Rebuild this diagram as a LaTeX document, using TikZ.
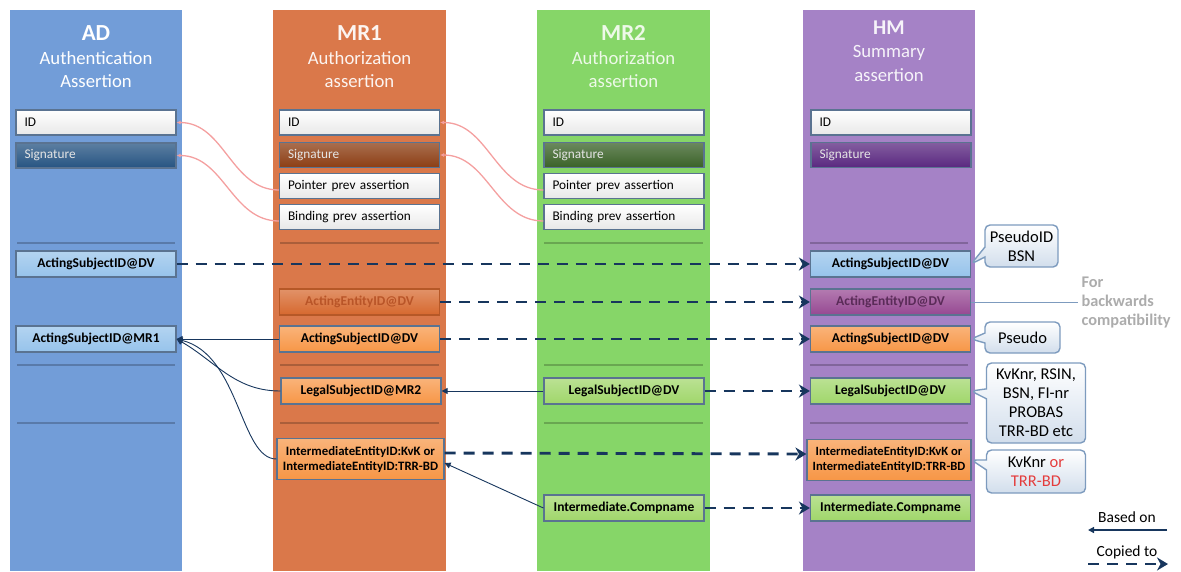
\documentclass[tikz,border=0pt]{standalone}
\usepackage{fontspec}
\setmainfont{Carlito}
\usetikzlibrary{arrows.meta,shapes.callouts}

\definecolor{adblue}{RGB}{114,157,216}
\definecolor{mrorange}{RGB}{218,120,74}
\definecolor{mrgreen}{RGB}{134,214,104}
\definecolor{hmpurple}{RGB}{165,130,198}
\definecolor{lightblue}{RGB}{150,195,235}
\definecolor{orangebox}{RGB}{247,150,70}
\definecolor{greenbox}{RGB}{160,214,106}
\definecolor{fadedorange}{RGB}{214,104,46}
\definecolor{fadedtext}{RGB}{185,85,40}
\definecolor{plum}{RGB}{150,72,146}
\definecolor{boxedge}{RGB}{90,115,145}
\definecolor{navy}{RGB}{23,54,93}
\definecolor{pinkline}{RGB}{244,160,160}
\definecolor{noteedge}{RGB}{125,155,190}
\definecolor{notefill}{RGB}{210,222,236}
\definecolor{adsig}{RGB}{38,84,130}
\definecolor{mrsig}{RGB}{140,62,20}
\definecolor{greensig}{RGB}{58,98,40}
\definecolor{hmsig}{RGB}{90,40,128}
\definecolor{compatgray}{RGB}{172,172,172}
\definecolor{orred}{RGB}{228,60,60}

\tikzset{
  field/.style={draw=boxedge, line width=1.2pt, top color=white, bottom color=gray!18,
    minimum height=25pt, text width=143pt, inner xsep=8.5pt, inner ysep=0pt, align=left,
    font=\fontsize{13.3}{15}\selectfont},
  sigfield/.style={field, top color=#1!75!white, bottom color=#1, text=white!90!black},
  rowbox/.style={draw=boxedge, line width=1.2pt, top color=#1!72!white, bottom color=#1,
    minimum width=160pt, minimum height=26pt, inner sep=2pt, align=center,
    font=\fontsize{13.5}{15}\selectfont\bfseries},
  coltitle/.style={align=center, inner sep=0pt, anchor=north, font=\fontsize{18.7}{23.5}\selectfont},
  note/.style={rectangle callout, draw=noteedge, line width=1.4pt, rounded corners=5pt,
    top color=white, bottom color=notefill, align=center, inner sep=2pt,
    font=\fontsize{16.5}{19}\selectfont, callout pointer width=10pt},
  copied/.style={navy, line width=2.9pt, dash pattern=on 11pt off 8pt, -{Stealth[length=11pt,width=13pt]}},
  based/.style={navy, line width=0.9pt, -{Triangle[length=6pt,width=6pt]}},
  pinkarrow/.style={pinkline, line width=1.3pt, -{Latex[length=4pt,width=4pt]}}
}

\begin{document}
\begin{tikzpicture}[x=1pt,y=-1pt]
\useasboundingbox (0,0) rectangle (1181,571);

% columns and separator lines
\foreach \l/\r/\c in {10/182/adblue, 273/446/mrorange, 537/710/mrgreen, 803/975/hmpurple}{
  \fill[\c] (\l,10) rectangle (\r,571);
  \foreach \y in {243,365,423}
    \draw[\c!78!black, line width=2pt] (\l+7,\y) -- (\r-7,\y);
}

% titles
\node[coltitle, text=white] (adtitle) at (96,25.5) {{\fontsize{23}{23.5}\selectfont\bfseries AD}\\Authentication\\Assertion};
\node[coltitle, text=white!92!mrorange] (mronetitle) at (359.5,25.5) {{\fontsize{23}{23.5}\selectfont\bfseries MR1}\\Authorization\\assertion};
\node[coltitle, text=white!85!mrgreen] (mrtwotitle) at (623.5,25.5) {{\fontsize{23}{23.5}\selectfont\bfseries MR2}\\Authorization\\assertion};
\node[coltitle, text=white!90!hmpurple] (hmtitle) at (889,20.5) {{\fontsize{21}{23.5}\selectfont\bfseries HM}\\Summary\\assertion};

% AD
\node[field] (adid) at (96,122.5) {ID};
\node[sigfield=adsig] (adsig) at (96,155.5) {Signature};
\node[rowbox=lightblue] (adasdv) at (96,264) {ActingSubjectID@DV};
\node[rowbox=lightblue] (adasmr) at (96,339) {ActingSubjectID@MR1};

% MR1
\node[field] (mr1id) at (359.5,122.5) {ID};
\node[sigfield=mrsig] (mr1sig) at (359.5,155) {Signature};
\node[field] (mr1ptr) at (359.5,186) {Pointer prev assertion};
\node[field] (mr1bind) at (359.5,217) {Binding prev assertion};
\node[rowbox=fadedorange, draw=fadedorange!85!black, text=fadedtext] (mr1aedv) at (359.5,302) {ActingEntityID@DV};
\node[rowbox=orangebox] (mr1asdv) at (359.5,339) {ActingSubjectID@DV};
\node[rowbox=orangebox] (mr1lsmr) at (361,391) {LegalSubjectID@MR2};
\node[rowbox=orangebox, minimum width=167pt, minimum height=41pt,
  font=\fontsize{12.8}{15}\selectfont\bfseries] (mr1inter) at (360.5,459)
  {IntermediateEntityID:KvK or\\IntermediateEntityID:TRR-BD};

% MR2
\node[field] (mr2id) at (624,122.5) {ID};
\node[sigfield=greensig] (mr2sig) at (624,155) {Signature};
\node[field] (mr2ptr) at (624,186) {Pointer prev assertion};
\node[field] (mr2bind) at (624,217) {Binding prev assertion};
\node[rowbox=greenbox] (mr2lsdv) at (624,391) {LegalSubjectID@DV};
\node[rowbox=greenbox] (mr2comp) at (624,508) {Intermediate.Compname};

% HM
\node[field] (hmid) at (891,122.5) {ID};
\node[sigfield=hmsig] (hmsig) at (891,155) {Signature};
\node[rowbox=lightblue] (hmasdv) at (890.5,264) {ActingSubjectID@DV};
\node[rowbox=plum, text=plum!60!black] (hmaedv) at (890.5,302) {ActingEntityID@DV};
\node[rowbox=orangebox] (hmasdvb) at (890.5,339) {ActingSubjectID@DV};
\node[rowbox=greenbox] (hmlsdv) at (890.5,391) {LegalSubjectID@DV};
\node[rowbox=orangebox, minimum width=164pt, minimum height=41pt,
  font=\fontsize{12.6}{15}\selectfont\bfseries] (hminter) at (889,460)
  {IntermediateEntityID:KvK or\\IntermediateEntityID:TRR-BD};
\node[rowbox=greenbox] (hmcomp) at (890.5,508) {Intermediate.Compname};

% callouts
\node[note, minimum width=73pt, minimum height=42pt, callout absolute pointer={(hmasdv.east)}] (pseudoid) at (1021.5,246) {PseudoID\\BSN};
\node[note, minimum width=75pt, minimum height=31pt, callout absolute pointer={(hmasdvb.east)}] (pseudo) at (1022.5,337.5) {Pseudo};
\node[note, minimum width=99pt, minimum height=80pt, callout absolute pointer={(hmlsdv.east)}] (kvknr) at (1036,403) {KvKnr, RSIN,\\BSN, FI-nr\\PROBAS\\TRR-BD etc};
\node[note, minimum width=99pt, minimum height=43pt, callout absolute pointer={(hminter.east)}] (kvkor) at (1036,471.5) {KvKnr {\color{orred}or}\\{\color{orred}TRR-BD}};

\node[anchor=west, align=left, text=compatgray, font=\fontsize{16.3}{19}\selectfont\bfseries] (compat) at (1078,302) {For\\backwards\\compatibility};
\draw[noteedge, line width=0.8pt] (hmaedv.east) -- (compat.west);

% pink links
\draw[pinkarrow] ([yshift=-4pt]mr1ptr.west) to[out=180,in=0] (adid.east);
\draw[pinkarrow] ([yshift=-4pt]mr1bind.west) to[out=180,in=0] (adsig.east);
\draw[pinkarrow] ([yshift=-4pt]mr2ptr.west) to[out=180,in=0] (mr1id.east);
\draw[pinkarrow] ([yshift=-4pt]mr2bind.west) to[out=180,in=0] (mr1sig.east);

% based on
\draw[based] (mr1asdv.west) -- (adasmr.east);
\draw[based] (mr1lsmr.west) to[out=180,in=-30] (adasmr.east);
\draw[based] (mr1inter.west) .. controls (240,459) and (240,355) .. (adasmr.east);
\draw[based] (mr2lsdv.west) -- (mr1lsmr.east);
\draw[based] (mr2comp.west) -- ([yshift=-4pt]mr1inter.east);

% copied to
\draw[copied] (adasdv.east) -- (hmasdv.west);
\draw[copied] (mr1aedv.east) -- (hmaedv.west);
\draw[copied] (mr1asdv.east) -- (hmasdvb.west);
\draw[copied] (mr2lsdv.east) -- (hmlsdv.west);
\draw[copied] ([yshift=6pt]mr1inter.east) -- ([yshift=6pt]hminter.west);
\draw[copied] (mr2comp.east) -- (hmcomp.west);

% legend
\node[font=\fontsize{15.5}{17}\selectfont] (basedon) at (1127,517) {Based on};
\coordinate (basedR) at (1167,530);
\coordinate (basedL) at (1088,530);
\draw[based, line width=1.3pt] (basedR) -- (basedL);
\node[font=\fontsize{15.5}{17}\selectfont] (copiedto) at (1127,552) {Copied to};
\coordinate (copiedL) at (1088,564);
\coordinate (copiedR) at (1168,564);
\draw[copied, line width=2.4pt] (copiedL) -- (copiedR);
\end{tikzpicture}
\end{document}
